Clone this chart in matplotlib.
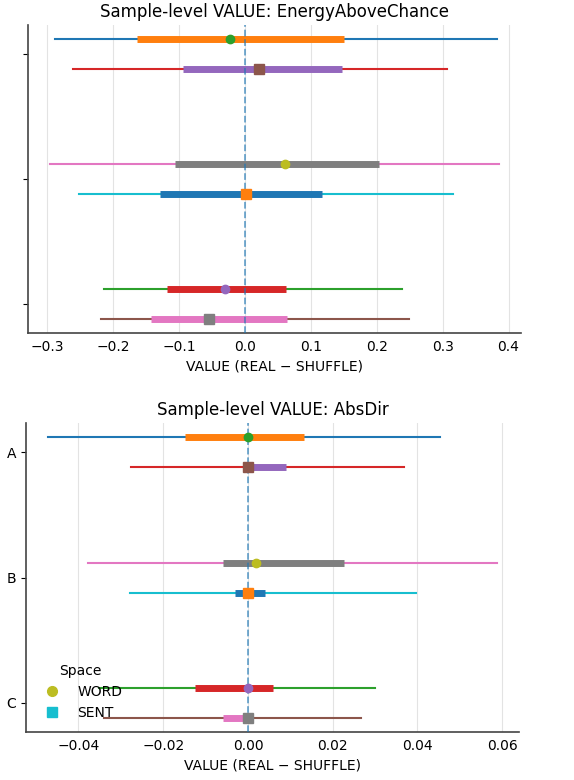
import matplotlib
matplotlib.use("Agg")
import matplotlib.pyplot as plt
from matplotlib.lines import Line2D

# ---- data ----
groups = ["A", "B", "C"]
spaces = ["WORD", "SENT"]

# EnergyAboveChance (rows: A-WORD, A-SENT, B-WORD, B-SENT, C-WORD, C-SENT)
eac_lo = [-0.288, -0.261, -0.295, -0.251, -0.213, -0.219]
eac_hi = [0.382, 0.307, 0.385, 0.315, 0.239, 0.249]
eac_q25 = [-0.163, -0.094, -0.106, -0.129, -0.118, -0.142]
eac_q75 = [0.150, 0.147, 0.203, 0.117, 0.062, 0.064]
eac_med = [-0.023, 0.021, 0.061, 0.001, -0.030, -0.054]

# AbsDir
abs_lo = [-0.0471, -0.0275, -0.0377, -0.0279, -0.0352, -0.0340]
abs_hi = [0.0454, 0.0369, 0.0587, 0.0397, 0.0300, 0.0266]
abs_q25 = [-0.0149, -0.0004, -0.0060, -0.0031, -0.0125, -0.0058]
abs_q75 = [0.0132, 0.0089, 0.0226, 0.0040, 0.0060, 0.0002]
abs_med = [0.0000, 0.0001, 0.0020, 0.0001, 0.0000, 0.0001]

titles = ["Sample-level VALUE: EnergyAboveChance", "Sample-level VALUE: AbsDir"]
xlabel = "VALUE (REAL \u2212 SHUFFLE)"
offset = {"WORD": -0.12, "SENT": 0.12}
marker_for = {"WORD": "o", "SENT": "s"}

plt.rcParams["font.family"] = ["DejaVu Sans"]
fig = plt.figure(figsize=(5.74, 7.80), dpi=100)
ax_top = fig.add_axes([0.0488, 0.573, 0.859, 0.395])
ax_bot = fig.add_axes([0.0453, 0.0615, 0.859, 0.396])

def draw(ax, lo, hi, q25, q75, med, title, show_labels, legend):
    k = 0
    row = 0
    for gi, g in enumerate(groups):
        for s in spaces:
            y = gi + offset[s]
            c_thin = f"C{k % 10}"; k += 1
            c_thick = f"C{k % 10}"; k += 1
            c_mark = f"C{k % 10}"; k += 1
            ax.plot([lo[row], hi[row]], [y, y], color=c_thin, lw=1.5, zorder=2)
            ax.plot([q25[row], q75[row]], [y, y], color=c_thick, lw=5,
                    zorder=3, solid_capstyle="butt")
            ax.plot([med[row]], [y], marker=marker_for[s], color=c_mark,
                    ms=6.5 if s == "SENT" else 6, ls="none", zorder=5)
            row += 1
    ax.axvline(0, color="C0", ls="--", lw=1.3, alpha=0.65, zorder=4)
    ax.set_yticks(range(len(groups)))
    ax.set_yticklabels(groups if show_labels else [])
    ax.invert_yaxis()
    ax.set_title(title, fontsize=12)
    ax.set_xlabel(xlabel, fontsize=10)
    ax.tick_params(axis="both", labelsize=10)
    ax.tick_params(axis="x", length=0, pad=5)
    ax.grid(axis="x", color="#dddddd", lw=0.8, alpha=0.8)
    ax.set_axisbelow(True)
    for side in ("top", "right"):
        ax.spines[side].set_visible(False)
    for side in ("left", "bottom"):
        ax.spines[side].set_color("#444444")
        ax.spines[side].set_linewidth(1.2)
    if legend:
        handles = [
            Line2D([], [], marker="o", color="C8", ls="none", ms=7, label="WORD"),
            Line2D([], [], marker="s", color="C9", ls="none", ms=7, label="SENT"),
        ]
        ax.legend(handles=handles, title="Space", loc="lower left",
                  frameon=False, fontsize=10, title_fontsize=10,
                  bbox_to_anchor=(0.0, 0.0))

draw(ax_top, eac_lo, eac_hi, eac_q25, eac_q75, eac_med, titles[0], False, False)
draw(ax_bot, abs_lo, abs_hi, abs_q25, abs_q75, abs_med, titles[1], True, True)

fig.savefig("out.png", dpi=100)
